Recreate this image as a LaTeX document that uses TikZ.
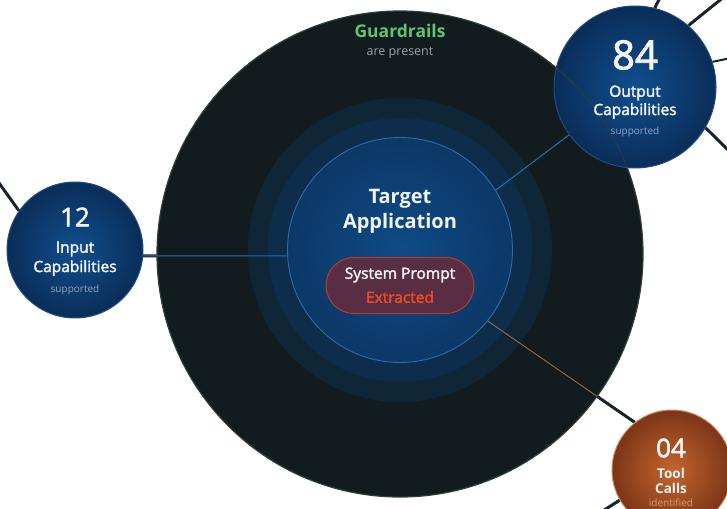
\documentclass[tikz,border=0pt]{standalone}
\usepackage{fontspec}
\setmainfont{Open Sans}
\newfontfamily\medfont{Open Sans}[FakeBold=2.2]
\usetikzlibrary{shapes.misc}
\definecolor{guardfill}{HTML}{121C1F}
\definecolor{guardedge}{HTML}{2C3F3B}
\definecolor{ringA}{HTML}{0F2637}
\definecolor{ringB}{HTML}{0E2D4A}
\definecolor{coreIn}{HTML}{0E4B86}
\definecolor{coreOut}{HTML}{0C3866}
\definecolor{coreEdge}{HTML}{2A6CAE}
\definecolor{satIn}{HTML}{104F8E}
\definecolor{satOut}{HTML}{0A2D58}
\definecolor{satEdge}{HTML}{1E4E7E}
\definecolor{toolIn}{HTML}{C4652D}
\definecolor{toolOut}{HTML}{7C3518}
\definecolor{toolEdge}{HTML}{D08A5C}
\definecolor{pillFill}{HTML}{5A2E42}
\definecolor{pillEdge}{HTML}{B23C30}
\definecolor{redtxt}{HTML}{EE4A2A}
\definecolor{greentxt}{HTML}{5EC46E}
\definecolor{graytxt}{HTML}{9AA3A6}
\definecolor{subtxt}{HTML}{8EA4BE}
\definecolor{tooltxt}{HTML}{D9A07A}
\definecolor{whitetxt}{HTML}{F2F4F7}
\definecolor{wire}{HTML}{18232B}
\definecolor{bluewire}{HTML}{2A6CB0}
\definecolor{brownwire}{HTML}{8A6444}
\pgfdeclarelayer{bottom}
\pgfdeclarelayer{guardlayer}
\pgfdeclarelayer{mid}
\pgfsetlayers{bottom,guardlayer,mid,main}
\begin{document}
\begin{tikzpicture}[x=1pt,y=-1pt,
  darkwire/.style={draw=wire,line width=3pt},
  thinwire/.style={line width=1pt},
  sat/.style={circle,inner sep=0pt,line width=1pt,draw=satEdge,inner color=satIn,outer color=satOut},
  txt/.style={inner sep=0pt,text=whitetxt,anchor=center},
  small/.style={txt,font=\fontsize{10}{12}\selectfont}
]
\useasboundingbox (0,0) rectangle (727,508);

\begin{pgfonlayer}{guardlayer}
\node[circle,inner sep=0pt,minimum size=486pt,fill=guardfill,draw=guardedge,line width=1.2pt] (guard) at (400,254) {};
\node[circle,inner sep=0pt,minimum size=304pt,fill=ringA] (ringone) at (400,250) {};
\node[circle,inner sep=0pt,minimum size=264pt,fill=ringB] (ringtwo) at (400,250) {};
\node[circle,inner sep=0pt,minimum size=225pt,draw=coreEdge,line width=0.9pt,inner color=coreIn,outer color=coreOut] (inner) at (400,250) {};
\end{pgfonlayer}

% satellites
\node[sat,minimum size=136pt] (input) at (75,250) {};
\node[sat,minimum size=162pt] (out) at (635,87) {};
\node[circle,inner sep=0pt,minimum size=120pt,line width=1pt,draw=toolEdge,inner color=toolIn,outer color=toolOut] (tool) at (672,470) {};

% edge of the guard circle seen through the output circle
\begin{scope}
\clip (out.center) circle (80);
\draw[guardedge,line width=1pt,opacity=0.8] (guard.center) circle (243);
\end{scope}

% free ends of outside wires
\coordinate (wa) at (-6,176);
\coordinate (wb) at (730,-8);
\coordinate (wc) at (731,58);
\coordinate (wd) at (735,157);
\coordinate (we) at (663,-8);
\coordinate (wf) at (598,514);

\begin{pgfonlayer}{bottom}
\draw[darkwire] (wa) -- (input.145);
\draw[darkwire] (out.49) -- (wb);
\draw[darkwire,line width=2pt] (out.18) -- (wc);
\draw[darkwire] (out.-30) -- (wd);
\draw[darkwire] (out.76) -- (we);
\draw[darkwire] (tool.210) -- (wf);
\draw[darkwire] (input.-5) -- (inner.183);
\draw[darkwire] (inner.-39) -- (tool.128);
\end{pgfonlayer}

\begin{pgfonlayer}{mid}
\draw[thinwire,bluewire] (input.-5) -- (inner.183);
\draw[thinwire,bluewire] (inner.32) -- (out.216);
\begin{scope}
\clip (guard.center) circle (243);
\draw[thinwire,brownwire] (inner.-39) -- (tool.128);
\end{scope}
\end{pgfonlayer}

% guardrails label
\node[txt,text=greentxt,font=\fontsize{17.5}{20}\selectfont\bfseries] (gtitle) at (400,31) {Guardrails};
\node[txt,text=graytxt,font=\fontsize{12.5}{14}\selectfont] (gsub) at (400,53) {are present};

% target application
\node[txt,font=\fontsize{20}{24}\selectfont\bfseries] (tone) at (400,199) {Target};
\node[txt,font=\fontsize{20}{24}\selectfont\bfseries] (ttwo) at (400,223) {Application};

% pill
\node[rounded rectangle,inner sep=0pt,minimum width=148pt,minimum height=56pt,fill=pillFill,draw=pillEdge,line width=1pt] (pill) at (400,285.5) {};
\node[txt,font=\fontsize{15.5}{18}\medfont] (pone) at (400,275) {System Prompt};
\node[txt,text=redtxt,font=\fontsize{15.5}{18}\medfont] (ptwo) at (400,297) {Extracted};

% input texts
\node[txt,font=\fontsize{26}{28}\medfont] (inum) at (75,217) {12};
\node[txt,font=\fontsize{15.5}{18}\medfont] (ione) at (75,249) {Input};
\node[txt,font=\fontsize{15.5}{18}\medfont] (itwo) at (75,268) {Capabilities};
\node[small,text=subtxt] (isub) at (75,290) {supported};

% output texts
\node[txt,font=\fontsize{40}{44}\medfont] (onum) at (635,55) {84};
\node[txt,font=\fontsize{15.5}{18}\medfont] (oone) at (635,93) {Output};
\node[txt,font=\fontsize{15.5}{18}\medfont] (otwo) at (635,111) {Capabilities};
\node[small,text=subtxt] (osub) at (635,132) {supported};

% tool texts
\node[txt,font=\fontsize{26}{28}\medfont] (tnum) at (671,448) {04};
\node[txt,font=\fontsize{13.5}{15}\selectfont\bfseries] (tlone) at (671,473) {Tool};
\node[txt,font=\fontsize{13.5}{15}\selectfont\bfseries] (tltwo) at (671,488) {Calls};
\node[small,text=tooltxt] (tsub) at (671,503) {identified};
\end{tikzpicture}
\end{document}
